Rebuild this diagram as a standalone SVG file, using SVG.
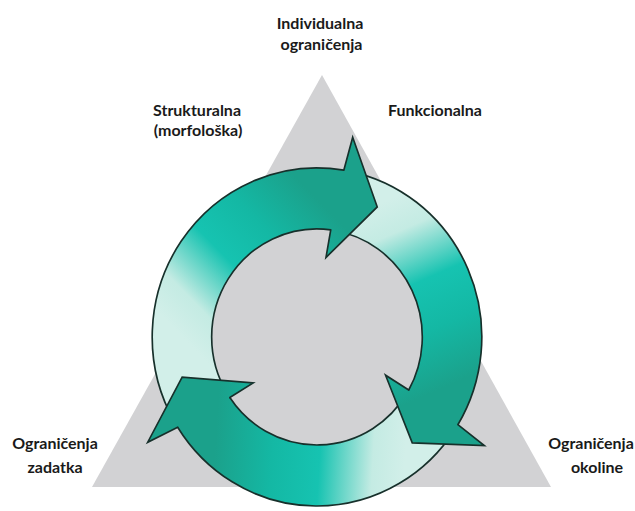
<svg xmlns="http://www.w3.org/2000/svg" width="635" height="511" viewBox="0 0 635 511">
<style>
.lbl{font-family:Lato,"Liberation Sans",sans-serif;font-weight:700;font-size:16px;fill:#1a1a1a;text-anchor:middle}
.edge{fill:none;stroke:#17302b;stroke-width:1.7;stroke-linecap:round;stroke-linejoin:miter}
</style>
<defs>
<linearGradient id="gA" gradientUnits="userSpaceOnUse" x1="-138" y1="0" x2="0" y2="-138">
<stop offset="0" stop-color="#d2efe9"/>
<stop offset="0.17" stop-color="#c4ebe3"/>
<stop offset="0.33" stop-color="#62d4c6"/>
<stop offset="0.45" stop-color="#16c3b1"/>
<stop offset="0.7" stop-color="#14b8a4"/>
<stop offset="1" stop-color="#1ba18b"/>
</linearGradient>
<linearGradient id="gB" href="#gA" gradientTransform="rotate(111.9)"/>
<linearGradient id="gC" href="#gA" gradientTransform="rotate(228.4)"/>
</defs>
<g id="triangle">
<polygon points="322,75 92,487 551,487" fill="#d2d2d4"/>
</g>
<g id="cycle" transform="translate(317,337) scale(0.975,1)">
<g id="fills">
<path fill="url(#gA)" d="M-146.0,85.1 A169,169 0 0 1 27.5,-166.8 L36.6,-199.7 L61.8,-130.1 L9.2,-79.5 L14.1,-107.1 A108,108 0 0 0 -91.5,57.4 Z"/>
<path fill="url(#gB)" d="M33.3,-165.7 A169,169 0 0 1 144.5,87.7 L171.6,108.5 L97.7,105.8 L70.3,38.2 L94.1,53.0 A108,108 0 0 0 17.8,-106.5 Z"/>
<path fill="url(#gC)" d="M141.3,92.7 A169,169 0 0 1 -142.9,90.2 L-173.6,105.2 L-138.3,40.2 L-65.5,45.9 L-89.4,60.5 A108,108 0 0 0 92.2,56.3 Z"/>
</g>
<g id="body-edges">
<path class="edge" d="M-146.0,85.1 A169,169 0 0 1 27.5,-166.8 M14.1,-107.1 A108,108 0 0 0 -91.5,57.4"/>
<path class="edge" d="M33.3,-165.7 A169,169 0 0 1 144.5,87.7 M94.1,53.0 A108,108 0 0 0 17.8,-106.5"/>
<path class="edge" d="M141.3,92.7 A169,169 0 0 1 -142.9,90.2 M-89.4,60.5 A108,108 0 0 0 92.2,56.3"/>
</g>
<g id="heads">
<polygon fill="url(#gA)" points="27.5,-166.8 36.6,-199.7 61.8,-130.1 9.2,-79.5 14.1,-107.1"/>
<polygon fill="url(#gB)" points="144.5,87.7 171.6,108.5 97.7,105.8 70.3,38.2 94.1,53.0"/>
<polygon fill="url(#gC)" points="-142.9,90.2 -173.6,105.2 -138.3,40.2 -65.5,45.9 -89.4,60.5"/>
<path class="edge" d="M27.5,-166.8 L36.6,-199.7 L61.8,-130.1 L9.2,-79.5 L14.1,-107.1"/>
<path class="edge" d="M144.5,87.7 L171.6,108.5 L97.7,105.8 L70.3,38.2 L94.1,53.0"/>
<path class="edge" d="M-142.9,90.2 L-173.6,105.2 L-138.3,40.2 L-65.5,45.9 L-89.4,60.5"/>
</g>
</g>
<g id="label-individualna"><text class="lbl" x="320" y="29">Individualna</text><text class="lbl" x="321.5" y="50">ograničenja</text></g>
<g id="label-strukturalna"><text class="lbl" x="197" y="116">Strukturalna</text><text class="lbl" x="198" y="135.5">(morfološka)</text></g>
<g id="label-funkcionalna"><text class="lbl" x="435" y="116">Funkcionalna</text></g>
<g id="label-zadatka"><text class="lbl" x="55" y="449">Ograničenja</text><text class="lbl" x="55" y="473">zadatka</text></g>
<g id="label-okoline"><text class="lbl" x="591" y="449">Ograničenja</text><text class="lbl" x="597" y="473">okoline</text></g>
</svg>
